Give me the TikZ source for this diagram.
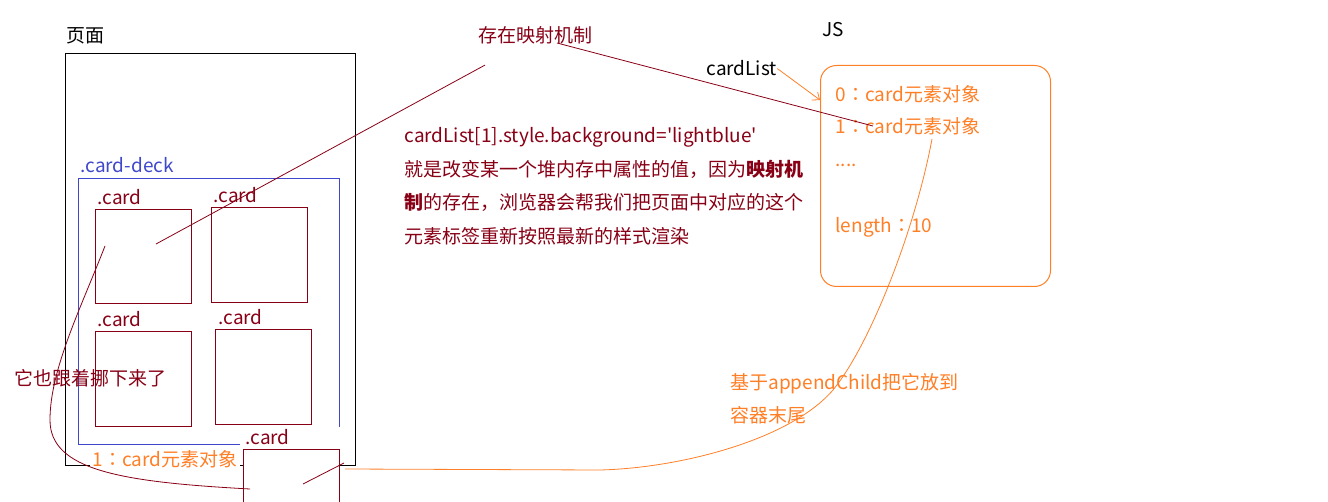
\documentclass[tikz,border=0pt]{standalone}
\usepackage{fontspec}
\newfontfamily\cjk{Noto Sans CJK SC}
\newfontfamily\cjktc{Noto Sans CJK TC}
\newcommand\fwcolon{{\cjktc ：}}
\usepackage{tikz}
\usetikzlibrary{positioning, calc, arrows.meta}

\definecolor{paintred}{HTML}{880015}
\definecolor{paintblue}{HTML}{3F48CC}
\definecolor{paintorange}{HTML}{FF7F27}

\tikzset{
	lbl/.style={inner sep=0pt, font=\cjk\fontsize{19}{23}\selectfont},
	cardbox/.style={draw=paintred, fill=white, minimum width=96pt, minimum height=95pt, inner sep=0pt, anchor=north west},
	cardlbl/.style={lbl, text=paintred},
	jsitem/.style={lbl, text=paintorange, anchor=base west},
}

\begin{document}
\begin{tikzpicture}[x=1pt, y=-1pt, line width=1pt]
		\useasboundingbox (0,0) rectangle (1328,502);

		% Page
		\node[draw, minimum width=290pt, minimum height=412pt, inner sep=0pt, anchor=north west] (page) at (65,53) {};
		\node[lbl, anchor=base west] (pagelbl) at (66,43) {页面};

		% Card deck (open at the lower right)
		\draw[paintblue] (240,444) -- (78,444) -- (78,179) -- (339,179) -- (339,427);
		\node[lbl, text=paintblue, anchor=base west] (decklbl) at (80,173) {.card-deck};

		% Cards
		\node[cardbox, minimum height=94pt] (card1) at (95,209) {};
		\node[cardbox] (card2) at (211,207) {};
		\node[cardbox] (card3) at (95,331) {};
		\node[cardbox] (card4) at (215,329) {};
		\node[cardlbl, above right=4pt and 2pt of card1.north west] (lbl1) {.card};
		\node[cardlbl, above right=4pt and 2pt of card2.north west] (lbl2) {.card};
		\node[cardlbl, above right=4pt and 2pt of card3.north west] (lbl3) {.card};
		\node[cardlbl, above right=4pt and 3pt of card4.north west] (lbl4) {.card};

		% Moved card below the page
		\node[lbl, text=paintorange, fill=white, inner xsep=3pt, anchor=base west] (moved) at (89,466) {1\fwcolon card元素对象};
		\node[cardbox, minimum height=100pt] (card5) at (243,449) {};
		\node[cardlbl, above right=4pt and 2pt of card5.north west] (lbl5) {.card};

		% Labels in red
		\node[lbl, text=paintred, anchor=base west] (maplbl) at (478,43) {存在映射机制};
		\node[lbl, text=paintred, anchor=base west] (followlbl) at (14,386) {它也跟着挪下来了};
		\node[lbl, text=paintred, align=left, anchor=north west, font=\cjk\fontsize{19}{33.5}\selectfont] (note) at (404,127)
			{cardList[1].style.background='lightblue'\\
			 就是改变某一个堆内存中属性的值，因为\textbf{映射机}\\
			 \textbf{制}的存在，浏览器会帮我们把页面中对应的这个\\
			 元素标签重新按照最新的样式渲染};

		% JS side
		\node[lbl, anchor=base west] (jslbl) at (822,37) {JS};
		\node[lbl, anchor=base west] (cardlist) at (706,76) {cardList};
		\node[draw=paintorange, rounded corners=16pt, minimum width=230pt, minimum height=221pt, anchor=north west] (jsbox) at (820,65) {};
		\node[jsitem] (item0) at (835,102) {0\fwcolon card元素对象};
		\node[jsitem] (item1) at (835,134) {1\fwcolon card元素对象};
		\node[jsitem] (dots) at (835,167) {....};
		\node[jsitem] (len) at (835,233) {length\fwcolon 10};
		\node[lbl, text=paintorange, align=left, anchor=north west, font=\cjk\fontsize{19}{33}\selectfont] (appendlbl) at (730,373)
			{基于appendChild把它放到\\容器末尾};

		% Connectors
		\draw[paintorange, line width=0.8pt, -{Straight Barb[length=6pt, width=10pt]}] (cardlist.east) -- ($(item0.base west)+(-15,-2)$);
		\draw[paintred, line width=0.8pt] ($(card1.north west)+(61,35)$) -- ($(maplbl.south west)+(7,20)$);
		\draw[paintred, line width=0.8pt] ($(maplbl.base west)+(79,0)$) -- ($(item1.base west)+(38,-8)$);
		\draw[paintred, line width=0.8pt] ($(card1.north west)+(10,37)$) .. controls (80,310) and (50,370) .. (50,420)
			.. controls (50,470) and (120,482) .. ($(card5.north west)+(7,40)$);
		\draw[paintred, line width=0.8pt] ($(card5.north west)+(60,35)$) -- ($(card5.north east)+(4,14)$);
		\draw[paintorange, line width=0.8pt] ($(item1.base west)+(97,5)$) .. controls (915,230) and (870,345) .. (833,390)
			.. controls (790,440) and (680,468) .. (600,470) -- ($(card5.north east)+(5,20)$);
	\end{tikzpicture}
\end{document}
